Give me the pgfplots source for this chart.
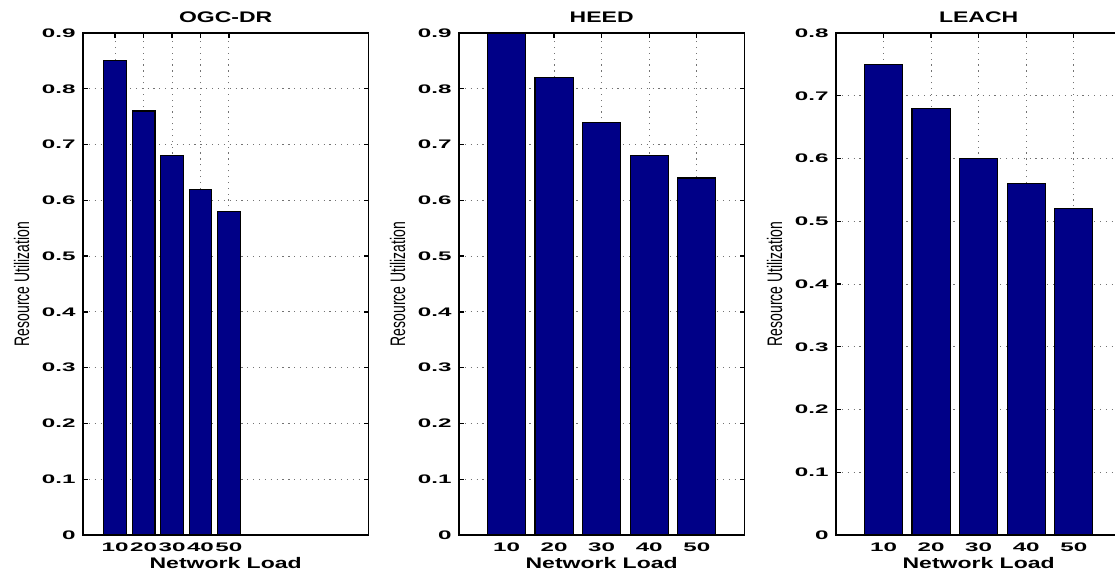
\documentclass[border=0pt]{standalone}
\usepackage{pgfplots}
\pgfplotsset{compat=1.18}
\usepackage{fontspec}
\setmainfont{Liberation Sans}
\definecolor{barblue}{RGB}{0,0,135}

\pgfplotsset{
 mystyle/.style={
  scale only axis, width=214pt, height=376.5pt, anchor=south west,
  ybar, bar width=8, ymin=0,
  xtick={10,20,30,40,50},
  tick align=inside, tick pos=both,
  major tick length=3.5pt,
  grid=major,
  major grid style={black!55, line width=0.7pt, dash pattern=on 0.9pt off 3.5pt},
  axis line style={line width=1pt, black},
  every tick/.style={black, line width=1pt},
  /pgf/number format/assume math mode=true,
  xticklabel style={inner sep=0pt, anchor=north, yshift=-6pt, xscale=1.95, font=\fontsize{9.3}{9.3}\bfseries\selectfont},
  yticklabel style={inner sep=0pt, anchor=east, xshift=-5.25pt, xscale=1.95, font=\fontsize{9.3}{9.3}\bfseries\selectfont},
  yticklabel={\pgfmathprintnumber[fixed,precision=1]{\tick}},
  every axis title/.style={at={(axis description cs:0.5,1.02)}, anchor=base, xscale=1.5, font=\fontsize{11.5}{11.5}\bfseries\selectfont},
  every axis x label/.style={at={(axis description cs:0.5,-0.0677)}, anchor=base, xscale=1.5, font=\fontsize{11.5}{11.5}\bfseries\selectfont},
  every axis y label/.style={at={(axis description cs:-0.215,0.5)}, anchor=center, rotate=90, yscale=1.5, font=\fontsize{10.5}{10.5}\selectfont},
  xlabel={Network Load}, ylabel={Resource Utilization},
 },
 mybar/.style={fill=barblue, draw=black, line width=0.9pt},
}

\begin{document}
\begin{tikzpicture}
\begin{axis}[mystyle, at={(62.25pt,30pt)}, xmin=-1.3, xmax=99, ymax=0.9, ytick={0,0.1,...,0.9}, title={OGC-DR}]
\addplot[mybar] coordinates {(10,0.85) (20,0.76) (30,0.68) (40,0.62) (50,0.58)};
\end{axis}
\begin{axis}[mystyle, at={(344.25pt,30pt)}, xmin=0, xmax=60, ymax=0.9, ytick={0,0.1,...,0.9}, title={HEED}]
\addplot[mybar] coordinates {(10,0.90) (20,0.82) (30,0.74) (40,0.68) (50,0.64)};
\end{axis}
\begin{axis}[mystyle, at={(627pt,30pt)}, xmin=0, xmax=60, ymax=0.8, ytick={0,0.1,...,0.8}, title={LEACH}]
\addplot[mybar] coordinates {(10,0.75) (20,0.68) (30,0.60) (40,0.56) (50,0.52)};
\end{axis}
\pgfresetboundingbox
\useasboundingbox (0,0) rectangle (836.25pt,431.25pt);
\end{tikzpicture}
\end{document}
